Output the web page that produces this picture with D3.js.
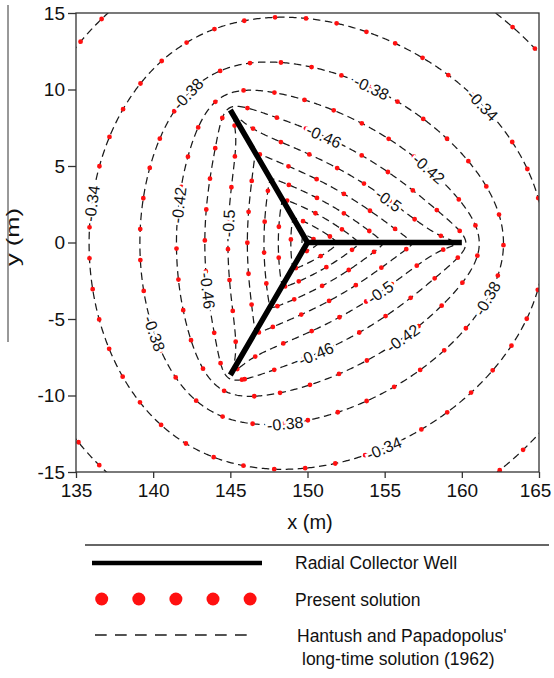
<!DOCTYPE html>
<html><head><meta charset="utf-8">
<script src="https://cdn.jsdelivr.net/npm/d3@7"></script>
<style>
body{margin:0;background:#fff}
text{font-family:Arial,"Liberation Sans",sans-serif;fill:#111}
</style>
</head><body>
<svg id="chart" width="554" height="678"></svg>
<script>
// ---------------- data ----------------
const xDomain = [135, 165];
const yDomain = [-15, 15];
const xTickValues = [135, 140, 145, 150, 155, 160, 165];
const yTickValues = [-15, -10, -5, 0, 5, 10, 15];
// radial collector well: hub and three laterals
const wellHub = [150, 0];
const armAnglesDeg = [0, 120, 240];
const armLength = 10;
// contour levels of the head change (m)
const contourLevels = [-0.30, -0.34, -0.38, -0.42, -0.46, -0.50, -0.54, -0.58, -0.62, -0.66, -0.70];
const readCrossings = [
  [135.3, 0, -0.34], [138.8, 0, -0.38], [141.4, 0, -0.42], [143.4, 0, -0.46], [145.0, 0, -0.50],
  [146.5, 0, -0.54], [147.7, 0, -0.58], [148.5, 0, -0.62], [149.2, 0, -0.66],
  [150, 14.8, -0.34], [150, 11.9, -0.38], [150, 9.3, -0.42], [150, 7.57, -0.46], [150, 6.26, -0.50],
  [150, 4.95, -0.54], [150, 3.76, -0.58], [150, 2.58, -0.62], [150, 1.9, -0.66], [150, 1.03, -0.70],
  [160.3, 0, -0.46], [161.07, 0, -0.42], [162.8, 0, -0.38], [165.0, 0.5, -0.34],
  [145, 9.0, -0.46], [145, 9.86, -0.42],
  [135.05, 12.6, -0.30], [161.94, 15, -0.30], [164.96, 12.14, -0.30], [161.6, -15, -0.30]
];
// in-line contour labels: [x, y, level]
const contourLabels = [
  [142.39, 9.58, -0.38], [135.97, 2.58, -0.34], [141.67, 2.45, -0.42], [145.17, 1.2, -0.50],
  [143.68, -3.10, -0.46], [140.12, -5.92, -0.38], [154.18, 10.16, -0.38], [161.44, 9.12, -0.34],
  [151.0, 6.70, -0.46], [157.81, 4.74, -0.42], [155.09, 2.52, -0.50], [154.50, -2.97, -0.50],
  [156.12, -6.18, -0.42], [150.49, -7.09, -0.46], [161.63, -3.69, -0.38], [148.54, -11.73, -0.38],
  [155.02, -13.56, -0.34]
];
const legendItems = ["Radial Collector Well", "Present solution", "Hantush and Papadopolus'", "long-time solution (1962)"];

// ---------------- layout ----------------
const plot = {left: 76, right: 539, top: 13, bottom: 472};
const svg = d3.select("#chart");
const x = d3.scaleLinear().domain(xDomain).range([plot.left, plot.right]);
const y = d3.scaleLinear().domain(yDomain).range([plot.bottom, plot.top]);

// ---------------- field model: weighted line sinks along the laterals ----------------
const NS = 80, D2 = 0.02;
function buildSamples(tipA, tipP, hubB) {
  const sx = [], sy = [], sw = [];
  let tot = 0;
  armAnglesDeg.forEach(a => {
    const c = Math.cos(a * Math.PI / 180), s = Math.sin(a * Math.PI / 180);
    for (let k = 0; k < NS; k++) {
      const u = (k + 0.5) / NS, d = u * armLength;
      const w = 1 + tipA * Math.pow(u, tipP) + hubB * Math.pow(1 - u, 4);
      sx.push(wellHub[0] + d * c); sy.push(wellHub[1] + d * s); sw.push(w); tot += w;
    }
  });
  return {n: sx.length, sx: Float64Array.from(sx), sy: Float64Array.from(sy),
          sw: Float64Array.from(sw.map(w => w / tot))};
}
function potential(S, px, py) {
  let t = 0;
  for (let k = 0; k < S.n; k++) {
    const dx = px - S.sx[k], dy = py - S.sy[k];
    t += S.sw[k] * Math.log(dx * dx + dy * dy + D2);
  }
  return 0.5 * t;
}
function solve3(M, v) {
  const a = M.map((r, i) => r.concat([v[i]]));
  for (let i = 0; i < 3; i++) {
    let p = i;
    for (let r = i + 1; r < 3; r++) if (Math.abs(a[r][i]) > Math.abs(a[p][i])) p = r;
    [a[i], a[p]] = [a[p], a[i]];
    for (let r = 0; r < 3; r++) if (r !== i) {
      const f = a[r][i] / a[i][i];
      for (let c = i; c < 4; c++) a[r][c] -= f * a[i][c];
    }
  }
  return [a[0][3] / a[0][0], a[1][3] / a[1][1], a[2][3] / a[2][2]];
}
const calib = readCrossings.concat(contourLabels);
let best = null;
for (const tipA of [0, 0.5, 1, 2, 3, 5, 8, 12])
  for (const tipP of [2, 4, 8, 16])
    for (const hubB of [0, 0.5, 1, 2, 4, 8]) {
      const S = buildSamples(tipA, tipP, hubB);
      const Fs = calib.map(c => potential(S, c[0], c[1]));
      const Ls = calib.map(c => Math.log(-c[2]));
      const M = [[0,0,0],[0,0,0],[0,0,0]], v = [0,0,0];
      Fs.forEach((f, i) => {
        const b = [1, f, f * f];
        for (let r = 0; r < 3; r++) { v[r] += b[r] * Ls[i]; for (let c = 0; c < 3; c++) M[r][c] += b[r] * b[c]; }
      });
      const coef = solve3(M, v);
      const fmin = d3.min(Fs) - 0.15, fmax = d3.max(Fs) + 0.3;
      if (coef[1] + 2 * coef[2] * fmin >= 0 || coef[1] + 2 * coef[2] * fmax >= 0) continue;
      let sse = 0;
      Fs.forEach((f, i) => { const e = coef[0] + coef[1] * f + coef[2] * f * f - Ls[i]; sse += e * e; });
      if (!best || sse < best.sse) best = {sse, S, coef, fmin, fmax};
    }
const [cA, cB, cC] = best.coef;
function headFromF(f) {
  const fc = Math.max(best.fmin, Math.min(best.fmax, f));
  return -Math.exp(cA + cB * fc + cC * fc * fc);
}

// grid (extends past the frame so ring closures stay outside the clip)
const gx0 = 133, gy0 = 17, step = 0.1, nx = 341, ny = 341;
const values = new Float64Array(nx * ny);
for (let j = 0; j < ny; j++) {
  const yv = gy0 - j * step;
  for (let i = 0; i < nx; i++) {
    values[j * nx + i] = headFromF(potential(best.S, gx0 + i * step, yv));
  }
}
const contours = d3.contours().size([nx, ny]).thresholds(contourLevels)(Array.from(values));
const rings = [];
contours.forEach(c => {
  c.coordinates.forEach(poly => poly.forEach(ring => {
    rings.push({level: c.value, pts: ring.map(([cx, cy]) => [x(gx0 + cx * step), y(gy0 - cy * step)])});
  }));
});

// ---------------- drawing ----------------
svg.append("defs").append("clipPath").attr("id", "plotClip")
  .append("rect").attr("x", plot.left).attr("y", plot.top)
  .attr("width", plot.right - plot.left).attr("height", plot.bottom - plot.top);

const gPlot = svg.append("g").attr("clip-path", "url(#plotClip)");
const line = d3.line();

// dashed contours (Hantush & Papadopulos)
gPlot.append("g").selectAll("path").data(rings).join("path")
  .attr("d", d => line(d.pts) + "Z")
  .attr("fill", "none").attr("stroke", "#1a1a1a").attr("stroke-width", 1.25)
  .attr("stroke-dasharray", "7.5 4.5");
// red dots (present solution)
gPlot.append("g").selectAll("path").data(rings).join("path")
  .attr("d", d => line(d.pts) + "Z")
  .attr("fill", "none").attr("stroke", "#ff1010").attr("stroke-width", 4.8)
  .attr("stroke-linecap", "round").attr("stroke-dasharray", "0 31");

// contour labels
const gLab = gPlot.append("g");
contourLabels.forEach(([lx, ly, lv]) => {
  const px = x(lx), py = y(ly);
  let bestD = Infinity, bp = null, bangle = 0;
  rings.filter(r => Math.abs(r.level - lv) < 1e-9).forEach(r => {
    const n = r.pts.length;
    r.pts.forEach((p, k) => {
      const d = (p[0] - px) ** 2 + (p[1] - py) ** 2;
      if (d < bestD) {
        bestD = d; bp = p;
        const a = r.pts[(k - 3 + n) % n], b = r.pts[(k + 3) % n];
        bangle = Math.atan2(b[1] - a[1], b[0] - a[0]) * 180 / Math.PI;
      }
    });
  });
  if (!bp) bp = [px, py];
  if (bangle > 90) bangle -= 180;
  if (bangle < -90) bangle += 180;
  gLab.append("text")
    .attr("transform", `translate(${bp[0]},${bp[1]}) rotate(${bangle})`)
    .attr("text-anchor", "middle").attr("dy", "0.36em")
    .attr("font-size", 16)
    .attr("stroke", "#fff").attr("stroke-width", 5).attr("paint-order", "stroke")
    .text(String(lv));
});

// well laterals
const tips = armAnglesDeg.map(a => [wellHub[0] + armLength * Math.cos(a * Math.PI / 180),
                                    wellHub[1] + armLength * Math.sin(a * Math.PI / 180)]);
gPlot.append("path")
  .attr("d", `M${x(tips[1][0])},${y(tips[1][1])}L${x(wellHub[0])},${y(wellHub[1])}L${x(tips[2][0])},${y(tips[2][1])}` +
             `M${x(wellHub[0])},${y(wellHub[1])}L${x(tips[0][0])},${y(tips[0][1])}`)
  .attr("fill", "none").attr("stroke", "#000").attr("stroke-width", 5.5).attr("stroke-linejoin", "miter");

// frame
svg.append("rect").attr("x", plot.left).attr("y", plot.top)
  .attr("width", plot.right - plot.left).attr("height", plot.bottom - plot.top)
  .attr("fill", "none").attr("stroke", "#333").attr("stroke-width", 1.3);

// axes
const gx = svg.append("g").attr("transform", `translate(0,${plot.bottom})`)
  .call(d3.axisBottom(x).tickValues(xTickValues).tickSize(6).tickPadding(6).tickFormat(d3.format("d")));
const gy = svg.append("g").attr("transform", `translate(${plot.left},0)`)
  .call(d3.axisLeft(y).tickValues(yTickValues).tickSize(8).tickPadding(3).tickFormat(d => String(d)));
[gx, gy].forEach(g => {
  g.select(".domain").remove();
  g.selectAll(".tick line").attr("stroke", "#333").attr("stroke-width", 1.3);
  g.selectAll(".tick text").attr("font-size", 19).attr("fill", "#111")
    .style("font-family", "Arial, 'Liberation Sans', sans-serif");
});
// keep the last x tick label inside the page
gx.selectAll(".tick text").filter(d => d === xDomain[1]).attr("dx", -4);

// axis titles
svg.append("text").attr("x", 310).attr("y", 529).attr("text-anchor", "middle")
  .attr("font-size", 20).text("x (m)");
svg.append("text").attr("transform", "translate(19,237) rotate(-90)").attr("text-anchor", "middle")
  .attr("font-size", 19).attr("textLength", 58).attr("lengthAdjust", "spacingAndGlyphs").text("y (m)");
svg.append("line").attr("x1", 8).attr("x2", 8).attr("y1", 5).attr("y2", 342)
  .attr("stroke", "#333").attr("stroke-width", 1);

// ---------------- legend ----------------
const lg = svg.append("g");
lg.append("line").attr("x1", 85).attr("x2", 549).attr("y1", 545).attr("y2", 545)
  .attr("stroke", "#333").attr("stroke-width", 1.3);
lg.append("line").attr("x1", 92).attr("x2", 262).attr("y1", 563).attr("y2", 563)
  .attr("stroke", "#000").attr("stroke-width", 4.5);
lg.selectAll("circle.leg").data(d3.range(5)).join("circle").attr("class", "leg")
  .attr("cx", i => 101.7 + i * 37.1).attr("cy", 599).attr("r", 6.5).attr("fill", "#ff1010");
lg.append("line").attr("x1", 95).attr("x2", 253).attr("y1", 635).attr("y2", 635)
  .attr("stroke", "#1a1a1a").attr("stroke-width", 1.3).attr("stroke-dasharray", "11.7 8.3");
const legY = [569, 606, 642, 665], legX = [295, 295, 297, 302];
legendItems.forEach((t, i) => {
  lg.append("text").attr("x", legX[i]).attr("y", legY[i]).attr("font-size", 17.5).text(t);
});
</script>
</body></html>
